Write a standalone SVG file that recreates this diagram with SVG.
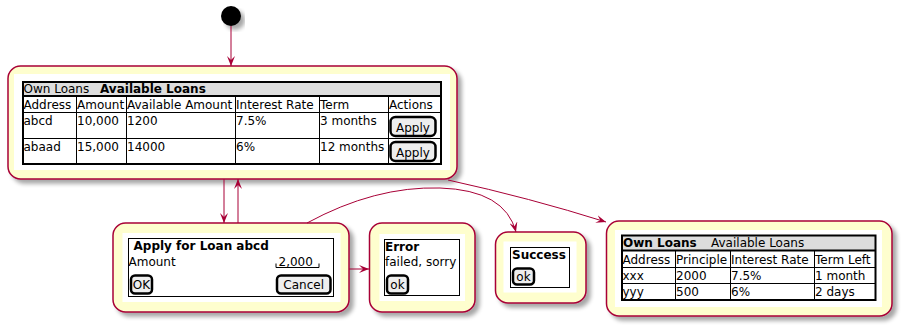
<svg xmlns="http://www.w3.org/2000/svg" width="904" height="329" viewBox="0 0 904 329">
<style>
text{font-family:"DejaVu Sans","Liberation Sans",sans-serif;font-size:12px;fill:#000}
.b{font-weight:bold}
.node{fill:#FEFECE;stroke:#A80036;stroke-width:1.5}
.inner{fill:#FFFFFF;stroke:none}
.frame{fill:none;stroke:#000;stroke-width:1}
.tbl{fill:none;stroke:#000;stroke-width:2}
.grid{stroke:#000;stroke-width:1;fill:none}
.hdr{fill:#DDDDDD;stroke:none}
.btn{fill:#EEEEEE;stroke:#000;stroke-width:2.5}
.c{text-anchor:middle}
.conn{fill:none;stroke:#A80036;stroke-width:1}
</style>
<defs>
<filter id="sh" x="-10%" y="-10%" width="130%" height="140%">
<feGaussianBlur in="SourceAlpha" stdDeviation="2"/>
<feOffset dx="4" dy="4" result="o"/>
<feComponentTransfer><feFuncA type="linear" slope="0.35"/></feComponentTransfer>
<feMerge><feMergeNode/><feMergeNode in="SourceGraphic"/></feMerge>
</filter>
<marker id="arr" viewBox="0 0 10 8" refX="10" refY="4" markerWidth="10" markerHeight="8" orient="auto" markerUnits="userSpaceOnUse">
<path d="M0,0 L10,4 L0,8 L4,4 Z" fill="#A80036"/>
</marker>
</defs>

<g id="start">
<circle cx="231" cy="16" r="10" fill="#000" filter="url(#sh)"/>
</g>

<g id="available-loans">
<rect class="node" x="8" y="66" width="449" height="113" rx="12.5" filter="url(#sh)"/>
<rect class="inner" x="14" y="74" width="436" height="96"/>
<rect class="hdr" x="23" y="82" width="418" height="14"/>
<line class="tbl" x1="23" y1="96" x2="441" y2="96"/>
<line class="grid" x1="23" y1="112.5" x2="441" y2="112.5"/>
<line class="grid" x1="23" y1="138.5" x2="441" y2="138.5"/>
<line class="grid" x1="76.5" y1="96" x2="76.5" y2="164"/>
<line class="grid" x1="126.5" y1="96" x2="126.5" y2="164"/>
<line class="grid" x1="235.5" y1="96" x2="235.5" y2="164"/>
<line class="grid" x1="319.5" y1="96" x2="319.5" y2="164"/>
<line class="grid" x1="388.5" y1="96" x2="388.5" y2="164"/>
<rect class="tbl" x="23" y="82" width="418" height="82"/>
<text x="23.5" y="93">Own Loans</text>
<text class="b" x="100" y="93">Available Loans</text>
<text x="23.5" y="109">Address</text>
<text x="77" y="109">Amount</text>
<text x="127" y="109">Available Amount</text>
<text x="236" y="109">Interest Rate</text>
<text x="320" y="109">Term</text>
<text x="389" y="109">Actions</text>
<text x="23.5" y="125">abcd</text>
<text x="77" y="125">10,000</text>
<text x="127" y="125">1200</text>
<text x="236" y="125">7.5%</text>
<text x="320" y="125">3 months</text>
<rect class="btn" x="390.5" y="117" width="45" height="19" rx="5"/>
<text class="c" x="413" y="132">Apply</text>
<text x="23.5" y="150.5">abaad</text>
<text x="77" y="150.5">15,000</text>
<text x="127" y="150.5">14000</text>
<text x="236" y="150.5">6%</text>
<text x="320" y="150.5">12 months</text>
<rect class="btn" x="390.5" y="142" width="45" height="19" rx="5"/>
<text class="c" x="413" y="157">Apply</text>
</g>

<g id="apply">
<rect class="node" x="113" y="223" width="236" height="89" rx="12.5" filter="url(#sh)"/>
<rect class="inner" x="122.5" y="233" width="218" height="69"/>
<rect class="frame" x="128.5" y="238.5" width="205" height="58"/>
<text class="b" x="133.5" y="250">Apply for Loan abcd</text>
<text x="128.5" y="265.5">Amount</text>
<text x="278.5" y="265.5">2,000</text>
<path class="grid" d="M276,263.5 V267.5 H319 V263.5"/>
<rect class="btn" x="131" y="275.5" width="21" height="18" rx="4"/>
<text class="c" x="141.5" y="289">OK</text>
<rect class="btn" x="277" y="275.5" width="53.5" height="18" rx="4"/>
<text class="c" x="303.7" y="289">Cancel</text>
</g>

<g id="error">
<rect class="node" x="369.5" y="223" width="105.5" height="89" rx="12.5" filter="url(#sh)"/>
<rect class="inner" x="379.5" y="234" width="85.5" height="67"/>
<rect class="frame" x="384.5" y="239.5" width="75" height="56"/>
<text class="b" x="385" y="251">Error</text>
<text x="385" y="266">failed, sorry</text>
<rect class="btn" x="387" y="275.5" width="21" height="18" rx="4"/>
<text class="c" x="397.5" y="289">ok</text>
</g>

<g id="success">
<rect class="node" x="495.5" y="232" width="90.5" height="71" rx="12.5" filter="url(#sh)"/>
<rect class="inner" x="503.5" y="241.5" width="73" height="51"/>
<rect class="frame" x="510.5" y="247.5" width="59" height="40"/>
<text class="b" x="512" y="259">Success</text>
<rect class="btn" x="513" y="268.5" width="21" height="16" rx="4"/>
<text class="c" x="523.5" y="281">ok</text>
</g>

<g id="own-loans">
<rect class="node" x="606.5" y="221" width="285.5" height="95" rx="12.5" filter="url(#sh)"/>
<rect class="inner" x="615" y="230" width="267" height="77"/>
<rect class="hdr" x="622" y="235.5" width="253.5" height="15"/>
<line class="tbl" x1="622" y1="250.5" x2="875.5" y2="250.5"/>
<line class="grid" x1="622" y1="267.5" x2="875.5" y2="267.5"/>
<line class="grid" x1="622" y1="283.5" x2="875.5" y2="283.5"/>
<line class="grid" x1="675.5" y1="250.5" x2="675.5" y2="300"/>
<line class="grid" x1="730.5" y1="250.5" x2="730.5" y2="300"/>
<line class="grid" x1="814.5" y1="250.5" x2="814.5" y2="300"/>
<rect class="tbl" x="622" y="235.5" width="253.5" height="64.5"/>
<text class="b" x="623" y="247">Own Loans</text>
<text x="711" y="247">Available Loans</text>
<text x="622.5" y="263.5">Address</text>
<text x="676" y="263.5">Principle</text>
<text x="731" y="263.5">Interest Rate</text>
<text x="815" y="263.5">Term Left</text>
<text x="622.5" y="279.5">xxx</text>
<text x="676" y="279.5">2000</text>
<text x="731" y="279.5">7.5%</text>
<text x="815" y="279.5">1 month</text>
<text x="622.5" y="295.5">yyy</text>
<text x="676" y="295.5">500</text>
<text x="731" y="295.5">6%</text>
<text x="815" y="295.5">2 days</text>
</g>

<g id="connectors">
<path class="conn" d="M231,26 L231,66" marker-end="url(#arr)"/>
<path class="conn" d="M224,179 L224,223" marker-end="url(#arr)"/>
<path class="conn" d="M238,223 L238,179" marker-end="url(#arr)"/>
<path class="conn" d="M349,269 L369,269" marker-end="url(#arr)"/>
<path class="conn" d="M307,223 Q375,186 440,188 T516,232" marker-end="url(#arr)"/>
<path class="conn" d="M448,180 Q530,198 606,222" marker-end="url(#arr)"/>
</g>
</svg>
